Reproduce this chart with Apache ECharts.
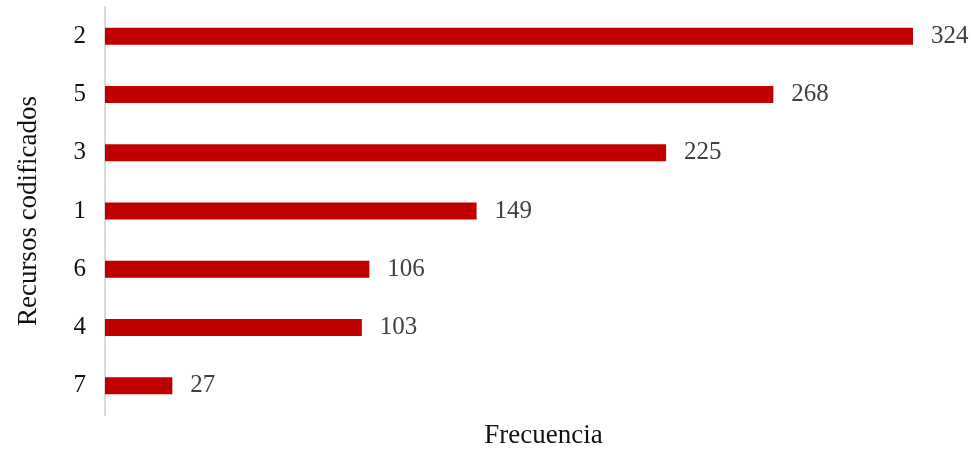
<!DOCTYPE html>
<html>
<head>
<meta charset="utf-8">
<script src="https://cdn.jsdelivr.net/npm/echarts@6/dist/echarts.min.js"></script>
<style>
  html, body { margin: 0; padding: 0; background: #fff; }
  #chart { width: 972px; height: 449px; }
</style>
</head>
<body>
<div id="chart"></div>
<script>
// Coded resources, listed top to bottom
const categories = ['2', '5', '3', '1', '6', '4', '7'];
const frequencies = [324, 268, 225, 149, 106, 103, 27];
const xAxisTitle = 'Frecuencia';
const yAxisTitle = 'Recursos codificados';

const serif = '"Liberation Serif", "DejaVu Serif", serif';
const chart = echarts.init(document.getElementById('chart'));

chart.setOption({
  animation: false,
  backgroundColor: '#ffffff',
  grid: {
    left: 105, top: 7, width: 808, height: 408,
    containLabel: false,
    outerBoundsMode: 'none'
  },
  xAxis: {
    type: 'value',
    min: 0,
    max: 324,
    axisLine: { show: false },
    axisTick: { show: false },
    axisLabel: { show: false },
    splitLine: { show: false },
    name: xAxisTitle,
    nameLocation: 'middle',
    nameGap: 7,
    nameTextStyle: { fontFamily: serif, fontSize: 27, color: '#111', padding: [0, 0, 0, 69] }
  },
  yAxis: {
    type: 'category',
    inverse: true,
    data: categories,
    axisLine: { show: true, lineStyle: { color: '#d9d9d9', width: 2 } },
    axisTick: { show: false },
    axisLabel: { fontFamily: serif, fontSize: 25, color: '#111', margin: 19 },
    name: yAxisTitle,
    nameLocation: 'middle',
    nameGap: 63,
    nameTextStyle: { fontFamily: serif, fontSize: 27, color: '#111' }
  },
  series: [{
    type: 'bar',
    data: frequencies,
    barWidth: 17,
    itemStyle: { color: '#c00000' },
    label: {
      show: true,
      position: 'right',
      distance: 18,
      fontFamily: serif,
      fontSize: 25,
      color: '#404040'
    }
  }]
});
</script>
</body>
</html>
